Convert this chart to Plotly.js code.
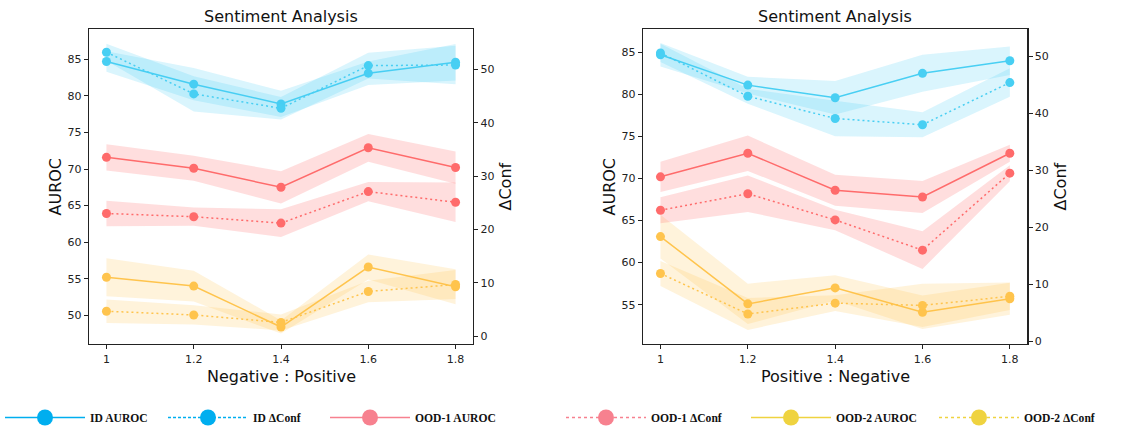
<!DOCTYPE html>
<html><head><meta charset="utf-8">
<script src="https://cdn.plot.ly/plotly-3.0.1.min.js"></script>
<style>html,body{margin:0;padding:0;background:#fff;overflow:hidden}#chart{width:1148px;height:432px}</style>
</head><body><div id="chart"></div>
<script>
// ---- data ----
const ratios = [1, 1.2, 1.4, 1.6, 1.8];
const ratioLabels = ['1', '1.2', '1.4', '1.6', '1.8'];

// Left panel: Negative : Positive
const idAurocL = [84.7, 81.6, 78.9, 83.1, 84.6];
const idAurocStdL = [1.4, 2.2, 1.8, 1.6, 2.5];
const idConfL = [53.2, 45.4, 42.7, 50.7, 50.8];
const idConfStdL = [1.6, 3.3, 2.1, 2.4, 3.6];
const ood1AurocL = [71.6, 70.1, 67.5, 72.9, 70.2];
const ood1AurocStdL = [1.8, 1.7, 2.2, 1.9, 2.2];
const ood1ConfL = [23.0, 22.4, 21.2, 27.1, 25.1];
const ood1ConfStdL = [2.4, 1.7, 2.6, 1.8, 3.7];
const ood2AurocL = [55.2, 54.0, 48.4, 56.6, 53.9];
const ood2AurocStdL = [2.6, 2.1, 0.9, 1.7, 2.4];
const ood2ConfL = [4.7, 4.0, 2.6, 8.4, 9.7];
const ood2ConfStdL = [2.2, 1.8, 1.5, 2.0, 2.7];

// Right panel: Positive : Negative
const idAurocR = [84.7, 81.1, 79.6, 82.5, 84.0];
const idAurocStdR = [1.4, 1.0, 2.0, 2.2, 1.7];
const idConfR = [50.6, 43.0, 39.1, 38.0, 45.4];
const idConfStdR = [1.6, 1.3, 3.1, 2.2, 2.5];
const ood1AurocR = [70.2, 73.0, 68.6, 67.8, 73.0];
const ood1AurocStdR = [1.8, 2.1, 1.85, 1.9, 1.0];
const ood1ConfR = [23.0, 25.9, 21.3, 16.0, 29.5];
const ood1ConfStdR = [2.3, 3.2, 1.8, 3.3, 1.4];
const ood2AurocR = [63.1, 55.1, 57.0, 54.1, 55.7];
const ood2AurocStdR = [2.6, 2.4, 1.5, 2.0, 1.9];
const ood2ConfR = [11.9, 4.8, 6.7, 6.3, 7.9];
const ood2ConfStdR = [2.2, 2.8, 1.4, 3.8, 2.4];

const aurocTicksL = [50, 55, 60, 65, 70, 75, 80, 85];
const aurocTicksR = [55, 60, 65, 70, 75, 80, 85];
const confTicks = [0, 10, 20, 30, 40, 50];

const legendNames = ['ID AUROC', 'ID \u0394Conf', 'OOD-1 AUROC', 'OOD-1 \u0394Conf', 'OOD-2 AUROC', 'OOD-2 \u0394Conf'];

// ---- styles ----
const W = 1148, H = 432;
const px = v => v / W;
const py = v => 1 - v / H;
const C = {
  id: {line: '#48CFF3', band: 'rgba(72,207,243,0.2)'},
  o1: {line: '#FF6B6B', band: 'rgba(255,107,107,0.22)'},
  o2: {line: '#FFC44D', band: 'rgba(255,196,77,0.2)'}
};
const legendColors = ['#00AEEF', '#00AEEF', '#F7818F', '#F7818F', '#EFD340', '#EFD340'];
const legendDash = ['solid', '3px,2px', 'solid', '3px,3px', 'solid', '3px,3px'];
const legendX = [0, 163, 325, 561, 746, 934];

function band(m, s, xa, ya, col) {
  const up = m.map((v, i) => v + s[i]);
  const lo = m.map((v, i) => v - s[i]).reverse();
  return {x: ratios.concat(ratios.slice().reverse()), y: up.concat(lo), xaxis: xa, yaxis: ya,
    type: 'scatter', mode: 'lines', fill: 'toself', fillcolor: col, line: {width: 0, color: 'rgba(0,0,0,0)'},
    hoverinfo: 'skip', showlegend: false};
}
function line(m, xa, ya, col, dash) {
  return {x: ratios, y: m, xaxis: xa, yaxis: ya, type: 'scatter', mode: 'lines+markers',
    line: {color: col, width: 1.5, dash: dash}, marker: {color: col, size: 9}, showlegend: false};
}

const traces = [];
function panel(xa, yA, yC, d) {
  traces.push(band(d[0], d[1], xa, yA, C.id.band));
  traces.push(line(d[0], xa, yA, C.id.line, 'solid'));
  traces.push(band(d[4], d[5], xa, yA, C.o1.band));
  traces.push(line(d[4], xa, yA, C.o1.line, 'solid'));
  traces.push(band(d[8], d[9], xa, yA, C.o2.band));
  traces.push(line(d[8], xa, yA, C.o2.line, 'solid'));
  traces.push(band(d[2], d[3], xa, yC, C.id.band));
  traces.push(line(d[2], xa, yC, C.id.line, '2px,3px'));
  traces.push(band(d[6], d[7], xa, yC, C.o1.band));
  traces.push(line(d[6], xa, yC, C.o1.line, '2px,3px'));
  traces.push(band(d[10], d[11], xa, yC, C.o2.band));
  traces.push(line(d[10], xa, yC, C.o2.line, '2px,3px'));
}
panel('x', 'y', 'y2', [idAurocL, idAurocStdL, idConfL, idConfStdL, ood1AurocL, ood1AurocStdL, ood1ConfL, ood1ConfStdL, ood2AurocL, ood2AurocStdL, ood2ConfL, ood2ConfStdL]);
panel('x2', 'y3', 'y4', [idAurocR, idAurocStdR, idConfR, idConfStdR, ood1AurocR, ood1AurocStdR, ood1ConfR, ood1ConfStdR, ood2AurocR, ood2AurocStdR, ood2ConfR, ood2ConfStdR]);

// legend-only traces, one legend box per entry
const legFont = {family: 'Liberation Serif', size: 11.6, color: '#111'};
const legends = {};
legendNames.forEach((n, i) => {
  const key = i === 0 ? 'legend' : 'legend' + (i + 1);
  traces.push({x: [null], y: [null], xaxis: 'x', yaxis: 'y', type: 'scatter', mode: 'lines+markers',
    name: '<b>' + n + '</b>', legend: key,
    line: {color: legendColors[i], width: 1.6, dash: legendDash[i]},
    marker: {color: legendColors[i], size: 18}, hoverinfo: 'skip'});
  legends[key] = {orientation: 'h', x: px(legendX[i]), xanchor: 'left', y: 0, yanchor: 'bottom',
    itemwidth: 80, font: legFont, bgcolor: 'rgba(0,0,0,0)'};
});

const tickFont = {family: 'DejaVu Sans', size: 11, color: '#222'};
const titleFont = {family: 'DejaVu Sans', size: 16, color: '#111'};
function xax(dom, anchor) {
  return {domain: dom, anchor: anchor, range: [0.96, 1.84], tickvals: ratios, ticktext: ratioLabels,
    ticks: 'outside', ticklen: 4, tickwidth: 1, tickcolor: '#222', showline: true, mirror: true,
    linecolor: '#222', linewidth: 1.3, showgrid: false, zeroline: false, tickfont: tickFont};
}
function yax(dom, anchor, range, tv, side, overlay) {
  const a = {domain: dom, anchor: anchor, range: range, tickvals: tv, ticktext: tv.map(String),
    ticks: 'outside', ticklen: 4, tickwidth: 1, tickcolor: '#222', showline: true,
    linecolor: '#222', linewidth: 1.3, showgrid: false, zeroline: false, tickfont: tickFont,
    side: side};
  if (overlay) a.overlaying = overlay;
  return a;
}
const yDom = [py(344), py(29)];
const yMid = (yDom[0] + yDom[1]) / 2;
function ytitle(text, x) {
  return {text: text, xref: 'paper', yref: 'paper', x: px(x), y: yMid, xanchor: 'center', yanchor: 'middle',
    textangle: -90, showarrow: false, font: titleFont};
}
function xtitle(text, x) {
  return {text: text, xref: 'paper', yref: 'paper', x: px(x), y: py(376), xanchor: 'center', yanchor: 'middle',
    showarrow: false, font: titleFont};
}
function ptitle(x) {
  return {text: 'Sentiment Analysis', xref: 'paper', yref: 'paper', x: px(x), y: py(16.5), xanchor: 'center', yanchor: 'middle',
    showarrow: false, font: {family: 'DejaVu Sans', size: 16, color: '#111'}};
}
const layout = Object.assign({
  width: W, height: H, margin: {l: 0, r: 0, t: 0, b: 0},
  paper_bgcolor: '#fff', plot_bgcolor: 'rgba(0,0,0,0)',
  xaxis: xax([px(89), px(473)], 'y'),
  yaxis: yax(yDom, 'x', [46.08, 89.14], aurocTicksL, 'left'),
  yaxis2: yax(yDom, 'x', [-1.44, 57.55], confTicks, 'right', 'y'),
  xaxis2: xax([px(643), px(1027.3)], 'y3'),
  yaxis3: yax(yDom, 'x2', [50.33, 87.77], aurocTicksR, 'left'),
  yaxis4: yax(yDom, 'x2', [-0.47, 54.8], confTicks, 'right', 'y3'),
  showlegend: true,
  annotations: [
    ptitle(281), ptitle(835),
    ytitle('AUROC', 55), ytitle('\u0394Conf', 505),
    ytitle('AUROC', 609), ytitle('\u0394Conf', 1060),
    xtitle('Negative : Positive', 281), xtitle('Positive : Negative', 835)
  ]
}, legends);
Plotly.newPlot('chart', traces, layout, {displayModeBar: false, staticPlot: true});
</script>
</body></html>
